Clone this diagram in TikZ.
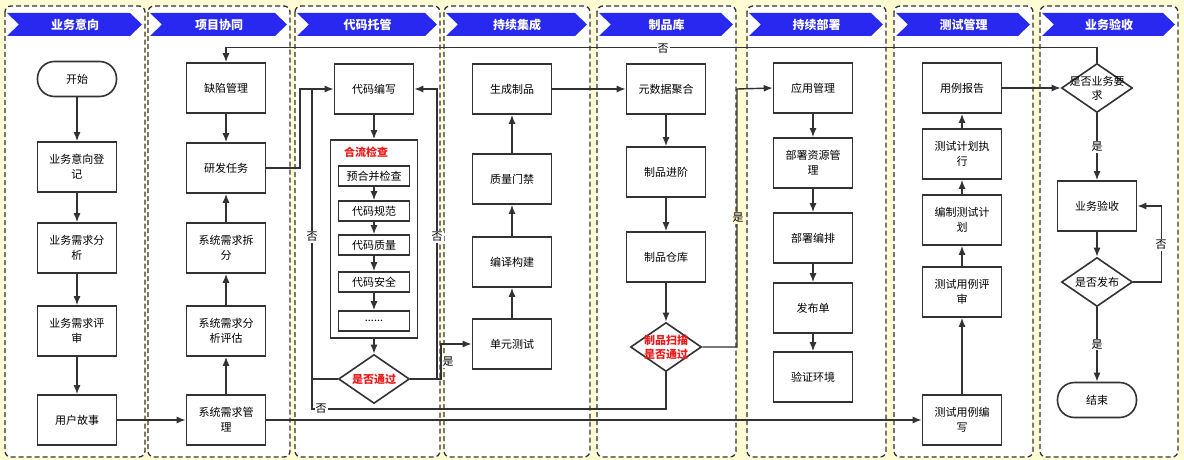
\documentclass[tikz,border=0pt]{standalone}
\usepackage{fontspec}
\setmainfont{Noto Sans CJK SC}
\usetikzlibrary{arrows.meta,shapes.geometric}
\definecolor{bgyellow}{RGB}{255,252,212}
\definecolor{hdblue}{RGB}{40,40,240}
\definecolor{ln}{RGB}{50,50,50}
\definecolor{wred}{RGB}{235,25,25}
\begin{document}
\begin{tikzpicture}[x=1pt,y=-1pt,
    box/.style={draw=ln,line width=1.6pt,fill=white,minimum width=79pt,minimum height=50pt,
      text width=64pt,align=center,inner sep=0pt,font=\fontsize{11}{15}\selectfont},
    sub/.style={box,minimum width=71pt,minimum height=20pt,text width=66pt},
    term/.style={box,minimum height=35pt,rounded corners=17pt},
    dec/.style={diamond,draw=ln,line width=1.6pt,fill=white,minimum width=71pt,minimum height=49pt,inner sep=0pt},
    dtext/.style={align=center,inner sep=0pt,font=\fontsize{11}{14}\selectfont},
    rtext/.style={dtext,text=wred,font=\fontsize{11}{14}\selectfont\bfseries},
    lbl/.style={fill=white,inner sep=1pt,font=\fontsize{11}{13}\selectfont},
    lane/.style={draw=ln,line width=1.3pt,dash pattern=on 5pt off 3pt,rounded corners=6pt,fill=white},
    line/.style={draw=ln,line width=1.4pt},
    flow/.style={line,-{Latex[length=9pt,width=7pt]}}]
  \fill[bgyellow] (0,0) rectangle (1184,460);
  \foreach \l/\r/\t in {5/145/业务意向,148/290/项目协同,295/440/代码托管,444/590/持续集成,
      597/736/制品库,747/886/持续部署,894/1033/测试管理,1040/1178/业务验收} {
    \path[lane] (\l,6) rectangle (\r,457);
    \fill[hdblue] (\l+2,13) -- (\r-15,13) -- (\r-3,24.5) -- (\r-15,36) -- (\l+2,36) -- (\l+14,24.5) -- cycle;
    \node[text=white,font=\fontsize{12}{14}\selectfont\bfseries] at ({(\l+\r)/2},24.5) (hd\l) {\t};
  }
  % 业务意向
  \node[term] at (77,79) (ks) {开始};
  \node[box] at (77,167) (ywdj) {业务意向登\\记};
  \node[box] at (77,248) (xqfx) {业务需求分\\析};
  \node[box] at (77,331) (xqps) {业务需求评\\审};
  \node[box] at (77,420) (yhgs) {用户故事};
  % 项目协同
  \node[box] at (226,88) (qxgl) {缺陷管理};
  \node[box] at (226,168) (yfrw) {研发任务};
  \node[box] at (226,248) (xtcf) {系统需求拆\\分};
  \node[box] at (226,331) (xtpg) {系统需求分\\析评估};
  \node[box] at (226,420) (xtgl) {系统需求管\\理};
  % 代码托管
  \node[box] at (374,89) (dmbx) {代码编写};
  \node[draw=ln,line width=1.6pt,fill=white,minimum width=87pt,minimum height=198pt] at (374,239) (hljc) {};
  \node[rtext,anchor=west] at (344,152) (hlbt) {合流检查};
  \node[sub] at (374,176) (yhb) {预合并检查};
  \node[sub] at (374,211) (dmgf) {代码规范};
  \node[sub] at (374,245) (dmzl) {代码质量};
  \node[sub] at (374,282) (dmaq) {代码安全};
  \node[sub] at (374,321) (gd) {......};
  \node[dec,label={[rtext]center:是否通过}] at (374,379) (sftg) {};
  % 持续集成
  \node[box] at (512,89) (sczp) {生成制品};
  \node[box] at (512,179) (zlmj) {质量门禁};
  \node[box] at (512,262) (byjg) {编译构建};
  \node[box] at (512,344) (dycs) {单元测试};
  % 制品库
  \node[box] at (666,89) (ysj) {元数据聚合};
  \node[box] at (666,172) (zpjj) {制品进阶};
  \node[box] at (666,257) (zpck) {制品仓库};
  \node[dec,label={[rtext]center:制品扫描\\是否通过}] at (666,347) (zpsm) {};
  % 持续部署
  \node[box] at (813,88) (yygl) {应用管理};
  \node[box] at (813,163) (bszy) {部署资源管\\理};
  \node[box] at (813,238) (bsbp) {部署编排};
  \node[box] at (813,308) (fbd) {发布单};
  \node[box] at (813,377) (yzhj) {验证环境};
  % 测试管理
  \node[box] at (962,88) (ylbg) {用例报告};
  \node[box] at (962,154) (jhzx) {测试计划执\\行};
  \node[box] at (962,220) (bzjh) {编制测试计\\划};
  \node[box] at (962,292) (ylps) {测试用例评\\审};
  \node[box] at (962,420) (ylbx) {测试用例编\\写};
  % 业务验收
  \node[dec,label={[dtext]center:是否业务要\\求}] at (1097,88) (ywyq) {};
  \node[box] at (1097,206) (ywys) {业务验收};
  \node[dec,label={[dtext]center:是否发布}] at (1097,282) (sffb) {};
  \node[term] at (1097,400) (js) {结束};
  % connectors
  \foreach \a/\b in {ks/ywdj,ywdj/xqfx,xqfx/xqps,xqps/yhgs,yhgs/xtgl,xtgl/xtpg,xtpg/xtcf,xtcf/yfrw,
      qxgl/yfrw,dmbx/hljc,yhb/dmgf,dmgf/dmzl,dmzl/dmaq,dmaq/gd,hljc/sftg,
      dycs/byjg,byjg/zlmj,zlmj/sczp,sczp/ysj,ysj/zpjj,zpjj/zpck,zpck/zpsm,
      yygl/bszy,bszy/bsbp,bsbp/fbd,fbd/yzhj,xtgl/ylbx,
      ylbx/ylps,ylps/bzjh,bzjh/jhzx,jhzx/ylbg,ylbg/ywyq,ywys/sffb}
    \path[flow] (\a) -- (\b);
  \coordinate (j1) at (300,89);
  \coordinate (j2) at (312,89);
  \coordinate (j3) at (437,89);
  \coordinate (j4) at (441,379);
  \coordinate (j5) at (737,89);
  \coordinate (j6) at (312,409);
  \path[flow] (yfrw.east) -| (j1) -- (dmbx.west);
  \path[line] (sftg.west) -| (j2);
  \path[line] (zpsm.south) |- (j6) -- (j2);
  \path[flow] (sftg.east) -| (j3) -- (dmbx.east);
  \path[flow] (sftg.east) -- (j4) |- (dycs.west);
  \path[flow] (zpsm.east) -| (j5) -- (yygl.west);
  \path[flow] (ywyq.north) -- ++(0,-15) -| (qxgl.north);
  \path[flow] (ywyq) -- node[lbl] (s3) {是} (ywys);
  \path[flow] (sffb.east) -| ([xshift=24pt]ywys.east) -- (ywys.east);
  \path[flow] (sffb) -- node[lbl] (s4) {是} (js);
  \node[lbl] at (312,237) (f1) {否};
  \node[lbl] at (437,237) (f2) {否};
  \node[lbl] at (448,362) (s1) {是};
  \node[lbl] at (321,409) (f3) {否};
  \node[lbl,fill=bgyellow] at (738,218) (s2) {是};
  \node[lbl] at (663,49) (f4) {否};
  \node[lbl] at (1161,245) (f5) {否};
\end{tikzpicture}
\end{document}
